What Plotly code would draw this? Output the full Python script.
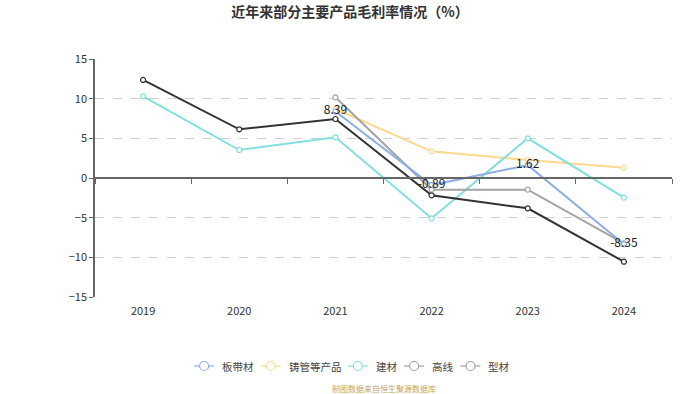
import plotly.graph_objects as go

years = ["2019", "2020", "2021", "2022", "2023", "2024"]
bandai = [None, None, 8.39, -0.89, 1.62, -8.35]        # 板带材
zhuguan = [None, None, 8.7, 3.36, 2.27, 1.30]          # 铸管等产品
jiancai = [10.3, 3.53, 5.13, -5.08, 5.0, -2.48]        # 建材
gaoxian = [None, None, 10.17, -1.47, -1.47, -8.24]     # 高线
xingcai = [12.36, 6.14, 7.44, -2.18, -3.82, -10.55]    # 型材

names = ["板带材", "铸管等产品", "建材", "高线", "型材"]
legend_colors = ["#8eaee6", "#fcd98b", "#82dfe0", "#a3a3a3", "#a3a3a3"]
line_colors = ["#8eaee6", "#fcd98b", "#82dfe0", "#a3a3a3", "#333333"]
series = [bandai, zhuguan, jiancai, gaoxian, xingcai]

FONT = "Noto Sans CJK SC, Noto Sans, sans-serif"
W, H = 700, 394
ML, MR, MT, MB = 95, 28, 59, 97
PW, PH = W - ML - MR, H - MT - MB


def px_x(px):
    return (px - ML) / PW


def px_y(py):
    return (H - MB - py) / PH


fig = go.Figure()

# invisible trace to activate the zero-line axis
fig.add_trace(go.Scatter(x=[0], y=[0], xaxis="x2", yaxis="y", mode="markers",
                         marker=dict(opacity=0), showlegend=False, hoverinfo="skip"))

draw_order = [1, 2, 3, 4, 0]
for i in draw_order:
    vals = series[i]
    is_labeled = (i == 0)
    fig.add_trace(go.Scatter(
        x=years, y=vals, name=names[i],
        mode="lines+markers+text" if is_labeled else "lines+markers",
        text=[("" if v is None else f"{v:.2f}") for v in vals] if is_labeled else None,
        textposition="middle center",
        textfont=dict(size=12, color="#222", family=FONT),
        line=dict(color=line_colors[i], width=2),
        marker=dict(symbol="circle", size=5, color="white",
                    line=dict(color=line_colors[i], width=1.2)),
        connectgaps=False, showlegend=False, cliponaxis=False,
    ))

# custom legend (icon: line with hollow circle, then text)
shapes = []
annotations = []
char_w = 10.2
icon_w, gap_text, gap_item = 20, 6, 10
widths = [icon_w + gap_text + char_w * len(n) for n in names]
total = sum(widths) + gap_item * (len(names) - 1)
cx = (W - total) / 2 + 0.5
ly = 366
for i, n in enumerate(names):
    c = legend_colors[i]
    shapes.append(dict(type="line", xref="paper", yref="paper",
                       x0=px_x(cx), x1=px_x(cx + icon_w), y0=px_y(ly), y1=px_y(ly),
                       line=dict(color=c, width=1.2)))
    shapes.append(dict(type="circle", xref="paper", yref="paper",
                       xsizemode="pixel", ysizemode="pixel",
                       xanchor=px_x(cx + icon_w / 2), yanchor=px_y(ly),
                       x0=-4.5, x1=4.5, y0=-4.5, y1=4.5,
                       fillcolor="white", line=dict(color=c, width=1.2)))
    annotations.append(dict(text=n, xref="paper", yref="paper",
                            x=px_x(cx + icon_w + gap_text), y=px_y(ly),
                            xanchor="left", yanchor="middle", showarrow=False,
                            font=dict(size=10.5, color="#444", family=FONT)))
    cx += widths[i] + gap_item

annotations.append(dict(text="制图数据来自恒生聚源数据库", xref="paper", yref="paper",
                        x=0.5, y=px_y(388), xanchor="center", yanchor="middle",
                        showarrow=False, font=dict(size=8, color="#c8a45c", family=FONT)))

fig.update_layout(
    width=W, height=H,
    margin=dict(l=ML, r=MR, t=MT, b=MB, autoexpand=False),
    paper_bgcolor="white", plot_bgcolor="white",
    font=dict(family=FONT, size=11, color="#333"),
    showlegend=False,
    title=dict(text="<b>近年来部分主要产品毛利率情况（%）</b>", x=0.5, xanchor="center",
               y=1 - 12 / H, yanchor="middle", font=dict(size=14, color="#333", family=FONT)),
    xaxis=dict(type="category", range=[-0.5, 5.5], showline=False, showgrid=False,
               zeroline=False, ticks="outside", ticklen=4, tickcolor="rgba(0,0,0,0)",
               tickfont=dict(size=11, color="#333")),
    xaxis2=dict(overlaying="x", anchor="free", position=0.5, side="bottom",
                range=[-0.5, 5.5], tickmode="array",
                tickvals=[-0.5, 0.5, 1.5, 2.5, 3.5, 4.5, 5.5],
                showticklabels=False, ticks="outside", ticklen=5, tickcolor="#666",
                showline=True, linecolor="#666", linewidth=1.5, showgrid=False, zeroline=False),
    yaxis=dict(range=[-15, 15], dtick=5, showline=True, linecolor="#666", linewidth=1.5,
               ticks="outside", ticklen=4, tickcolor="#666", showgrid=True,
               gridcolor="#cfcfcf", griddash="dash", gridwidth=1, zeroline=False,
               tickfont=dict(size=11, color="#333")),
    shapes=shapes,
    annotations=annotations,
)

fig.write_html("out.html", config={"displayModeBar": False},
               post_script="document.body.style.margin='0';")
